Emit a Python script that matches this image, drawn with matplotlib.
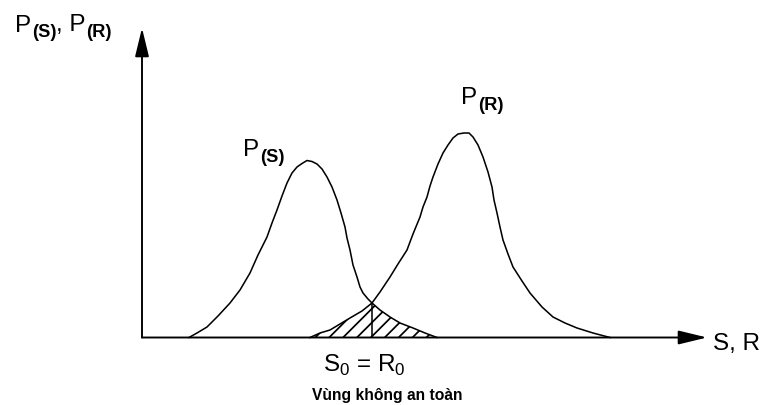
import numpy as np
import matplotlib
matplotlib.use('Agg')
import matplotlib.pyplot as plt

# Values (x along the S,R axis, y = height above the baseline)
s_x = np.array([47, 55, 65, 76, 88, 98, 108, 116, 125, 130, 135, 140, 145, 150, 155, 160,
                165, 170, 175, 180, 185, 190, 195, 199, 203, 205, 208, 211, 215, 218, 221,
                226, 230, 238, 248, 258, 271, 283, 295])
s_y = np.array([0, 4.5, 10.5, 21.5, 34.5, 47.5, 64.5, 82.5, 100.5, 114.5, 127.5, 141.5,
                154.5, 164.5, 170.5, 174, 177, 176, 173.5, 168.5, 160.5, 150.5, 137.5, 124.5,
                110.5, 99.5, 87.5, 72.5, 60.5, 50.5, 44.5, 38.5, 34.5, 27.5, 20.5, 14.5,
                9.5, 4.5, 0])

r_x = np.array([168, 178, 188, 198, 208, 220, 230, 238, 248, 256, 265, 271, 278, 281, 285,
                288, 291, 296, 301, 306, 311, 316, 322, 327, 331, 336, 341, 346, 350, 352,
                355, 358, 361, 366, 371, 380, 388, 400, 411, 423, 435, 451, 468])
r_y = np.array([0, 4.5, 7.5, 13.5, 19.5, 26.5, 34.5, 45.5, 60.5, 73.5, 87.5, 103.5, 120.5,
                130.5, 140.5, 151.5, 160.5, 173.5, 184.5, 192.5, 199.5, 203.5, 204.5, 204.5,
                200.5, 192.5, 180.5, 165.5, 150.5, 137.5, 124.5, 110.5, 97.5, 83.5, 70.5,
                56.5, 44.5, 30.5, 20.5, 14.5, 9.5, 4.5, 0])

x_cross = 230  # S0 = R0

plt.rcParams['mathtext.fontset'] = 'custom'
plt.rcParams['mathtext.rm'] = 'Liberation Sans'
plt.rcParams['font.family'] = ['Liberation Sans', 'DejaVu Sans']
plt.rcParams['hatch.linewidth'] = 1.0

fig = plt.figure(figsize=(6.08, 3.24), dpi=125)
ax = fig.add_axes([0, 0, 1, 1])
ax.set_xlim(-142, 618)
ax.set_ylim(-67.5, 337.5)
ax.axis('off')

# Curves
ax.plot(s_x, s_y, color='black', lw=0.9)
ax.plot(r_x, r_y, color='black', lw=0.9)

# Unsafe zone: below both curves
hx = np.concatenate([r_x[r_x <= x_cross], s_x[s_x > x_cross]])
hy = np.concatenate([r_y[r_x <= x_cross], s_y[s_x > x_cross]])
ax.fill(np.r_[hx, hx[0]], np.r_[hy, 0], facecolor='none', edgecolor='black',
        hatch='///', lw=0)
y_cross = s_y[s_x == x_cross][0]
ax.vlines(x_cross, 0, y_cross, color='black', lw=0.9)

# Axes with arrows
arrow = dict(arrowstyle='-|>,head_length=0.7,head_width=0.17', color='black',
             lw=1.1, mutation_scale=20, shrinkA=0, shrinkB=0)
ax.annotate('', xy=(0, 309.5), xytext=(0, 0), arrowprops=arrow)
ax.annotate('', xy=(565, 0), xytext=(0, 0), arrowprops=arrow)

fs = 14
sub_fs = 10.5


def p_label(x, y, subs):
    # "P" followed by a bold, lowered subscript; repeated for each entry in subs
    prev = ax.text(x, y, 'P', fontsize=fs, va='bottom')
    for i, sub in enumerate(subs):
        prev = ax.annotate(sub, xy=(1, 0), xycoords=prev, xytext=(0.3, -2.8),
                           textcoords='offset points', fontsize=sub_fs, weight='bold',
                           va='bottom')
        if i < len(subs) - 1:
            prev = ax.annotate(', P', xy=(1, 0), xycoords=prev, xytext=(0, 2.8),
                               textcoords='offset points', fontsize=fs, va='bottom')


p_label(-127, 301, ['(S)', '(R)'])
p_label(101, 176, ['(S)'])
p_label(319, 228, ['(R)'])

ax.text(571, -12.5, 'S, R', fontsize=fs, va='baseline')
ax.text(181, -34.5, r'S$_0$ = R$_0$', fontsize=fs, va='baseline')
ax.text(170, -62.5, 'Vùng không an toàn', fontsize=9, weight='bold', va='baseline')

fig.savefig('out.png', dpi=125, facecolor='white')
